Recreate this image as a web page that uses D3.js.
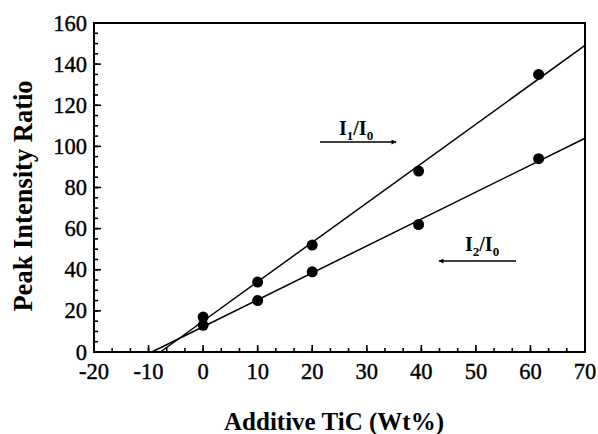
<!DOCTYPE html>
<html>
<head>
<meta charset="UTF-8">
<title></title>
<style>
  body { margin: 0; background: #fff; }
  text { font-family: "Liberation Serif", "DejaVu Serif", serif; fill: #000; }
</style>
</head>
<body>
<script src="https://cdn.jsdelivr.net/npm/d3@7"></script>
<script>
// data
var tic = [0, 10, 20, 39.5, 61.5];
var ratioI1 = [17, 34, 52, 88, 135];
var ratioI2 = [13, 25, 39, 62, 94];
var xTicks = [-20, -10, 0, 10, 20, 30, 40, 50, 60, 70];
var yTicks = [0, 20, 40, 60, 80, 100, 120, 140, 160];

var W = 598, H = 434;
var pLeft = 94, pRight = 585, pTop = 23, pBottom = 352;

var svg = d3.select('body').append('svg')
  .attr('width', W)
  .attr('height', H);

var x = d3.scaleLinear().domain([-20, 70]).range([pLeft, pRight]);
var y = d3.scaleLinear().domain([0, 160]).range([pBottom, pTop]);

// minor ticks (inward)
var xMinor = d3.range(-20, 70.01, 10 / 3);
var yMinor = d3.range(0, 160.01, 5);

svg.append('g').selectAll('line').data(xMinor).enter().append('line')
  .attr('x1', function(d) { return x(d); })
  .attr('x2', function(d) { return x(d); })
  .attr('y1', pBottom)
  .attr('y2', pBottom - 4)
  .attr('stroke', '#000').attr('stroke-width', 1.6);

svg.append('g').selectAll('line').data(xTicks).enter().append('line')
  .attr('x1', function(d) { return x(d); })
  .attr('x2', function(d) { return x(d); })
  .attr('y1', pBottom)
  .attr('y2', pBottom - 7)
  .attr('stroke', '#000').attr('stroke-width', 1.6);

svg.append('g').selectAll('line').data(yMinor).enter().append('line')
  .attr('x1', pLeft)
  .attr('x2', pLeft + 4)
  .attr('y1', function(d) { return y(d); })
  .attr('y2', function(d) { return y(d); })
  .attr('stroke', '#000').attr('stroke-width', 1.6);

svg.append('g').selectAll('line').data(yTicks).enter().append('line')
  .attr('x1', pLeft)
  .attr('x2', pLeft + 7)
  .attr('y1', function(d) { return y(d); })
  .attr('y2', function(d) { return y(d); })
  .attr('stroke', '#000').attr('stroke-width', 1.6);

// frame
svg.append('rect')
  .attr('x', pLeft).attr('y', pTop)
  .attr('width', pRight - pLeft).attr('height', pBottom - pTop)
  .attr('fill', 'none')
  .attr('stroke', '#000')
  .attr('stroke-width', 2);

// tick labels
svg.append('g').selectAll('text').data(xTicks).enter().append('text')
  .attr('x', function(d) { return x(d); })
  .attr('y', 379)
  .attr('text-anchor', 'middle')
  .style('font-size', '22.5px')
  .style('stroke', '#000').style('stroke-width', 0.4)
  .text(function(d) { return d; });

svg.append('g').selectAll('text').data(yTicks).enter().append('text')
  .attr('x', 87)
  .attr('y', function(d) { return y(d) + 7.5; })
  .attr('text-anchor', 'end')
  .style('font-size', '22.5px')
  .style('stroke', '#000').style('stroke-width', 0.4)
  .text(function(d) { return d; });

// axis titles
svg.append('text')
  .attr('x', 334)
  .attr('y', 430)
  .attr('text-anchor', 'middle')
  .style('font-size', '25px')
  .style('font-weight', 'bold')
  .text('Additive TiC (Wt%)');

svg.append('text')
  .attr('transform', 'translate(32,196) rotate(-90)')
  .attr('text-anchor', 'middle')
  .style('font-size', '26.5px')
  .style('font-weight', 'bold')
  .text('Peak Intensity Ratio');

// least squares fit lines, from y = 0 up to the right edge
function fit(xs, ys) {
  var mx = d3.mean(xs), my = d3.mean(ys);
  var sxy = d3.sum(xs, function(v, i) { return (v - mx) * (ys[i] - my); });
  var sxx = d3.sum(xs, function(v) { return (v - mx) * (v - mx); });
  var b = sxy / sxx;
  return { b: b, a: my - b * mx };
}

[ratioI1, ratioI2].forEach(function(ys) {
  var f = fit(tic, ys);
  var x0 = -f.a / f.b;
  var pts = [[x0, 0], [70, f.a + f.b * 70]];
  svg.append('path')
    .attr('d', d3.line()
      .x(function(d) { return x(d[0]); })
      .y(function(d) { return y(d[1]); })(pts))
    .attr('fill', 'none')
    .attr('stroke', '#000')
    .attr('stroke-width', 1.5);

  svg.append('g').selectAll('circle').data(ys).enter().append('circle')
    .attr('cx', function(d, i) { return x(tic[i]); })
    .attr('cy', function(d) { return y(d); })
    .attr('r', 5.5)
    .attr('fill', '#000');
});

// labels with arrows
svg.append('defs').append('marker')
  .attr('id', 'arr')
  .attr('viewBox', '0 0 10 10')
  .attr('refX', 9).attr('refY', 5)
  .attr('markerWidth', 7).attr('markerHeight', 5)
  .attr('markerUnits', 'userSpaceOnUse')
  .attr('orient', 'auto')
  .append('path')
  .attr('d', 'M0,0L10,5L0,10z')
  .attr('fill', '#000');

function label(tx, ty, sub, ax1, ax2, ay) {
  var t = svg.append('text')
    .attr('x', tx).attr('y', ty)
    .style('font-size', '20px')
    .style('font-weight', 'bold');
  t.append('tspan').text('I');
  t.append('tspan').attr('dy', 5).style('font-size', '13px').text(sub);
  t.append('tspan').attr('dy', -5).text('/I');
  t.append('tspan').attr('dy', 5).style('font-size', '13px').text('0');
  svg.append('line')
    .attr('x1', ax1).attr('x2', ax2)
    .attr('y1', ay).attr('y2', ay)
    .attr('stroke', '#000')
    .attr('stroke-width', 1.6)
    .attr('marker-end', 'url(#arr)');
}

label(339, 135, '1', 320, 396, 142);
label(465, 251, '2', 516, 439, 261);
</script>
</body>
</html>
